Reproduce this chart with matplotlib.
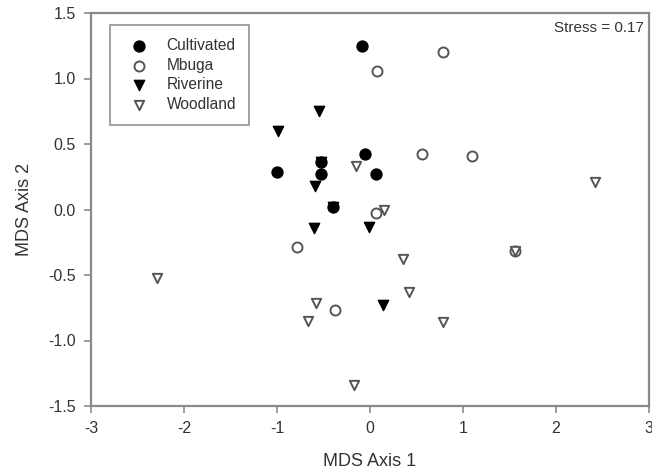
import matplotlib
matplotlib.use("Agg")
from matplotlib import pyplot as plt

plt.rcParams['font.family'] = ['Liberation Sans', 'DejaVu Sans']

# MDS coordinates
cultivated_x = [-0.09, -0.05, -1.00, -0.53, -0.53, 0.06, -0.40]
cultivated_y = [1.25, 0.42, 0.29, 0.36, 0.27, 0.27, 0.02]

mbuga_x = [0.07, 0.78, 0.56, 1.10, 0.06, -0.79, -0.38, 1.56]
mbuga_y = [1.06, 1.20, 0.42, 0.41, -0.03, -0.29, -0.77, -0.32]

riverine_x = [-0.55, -0.99, -0.59, -0.60, -0.01, 0.14, -0.40, -0.53]
riverine_y = [0.75, 0.60, 0.18, -0.14, -0.13, -0.73, 0.02, 0.36]

woodland_x = [-0.15, 0.15, 0.35, 0.42, 0.78, 2.42, -2.29, -0.58, -0.67, -0.17, 1.56]
woodland_y = [0.33, 0.00, -0.38, -0.63, -0.86, 0.21, -0.52, -0.71, -0.85, -1.34, -0.32]

x_ticks = [-3, -2, -1, 0, 1, 2, 3]
y_ticks = [-1.5, -1.0, -0.5, 0.0, 0.5, 1.0, 1.5]

gris = '#555555'
eje = '#8a8a8a'

fig = plt.figure(figsize=(6.52, 4.71), dpi=100)
ax = fig.add_axes([91 / 652, 65 / 471, 558 / 652, 393 / 471])

ax.scatter(cultivated_x, cultivated_y, s=62, marker='o', facecolor='black',
           edgecolor='black', linewidth=1, label='Cultivated', zorder=3)
ax.scatter(mbuga_x, mbuga_y, s=52, marker='o', facecolor='white',
           edgecolor=gris, linewidth=1.4, label='Mbuga', zorder=3)
ax.scatter(riverine_x, riverine_y, s=55, marker='v', facecolor='black',
           edgecolor='black', linewidth=1, label='Riverine', zorder=4)
ax.scatter(woodland_x, woodland_y, s=45, marker='v', facecolor='white',
           edgecolor=gris, linewidth=1.4, label='Woodland', zorder=4)

ax.set_xlim(-3, 3)
ax.set_ylim(-1.5, 1.5)
ax.set_xticks(x_ticks)
ax.set_yticks(y_ticks)
ax.set_xticklabels([str(t) for t in x_ticks])
ax.set_yticklabels(['%.1f' % t for t in y_ticks])

for lado in ax.spines.values():
    lado.set_color(eje)
    lado.set_linewidth(1.6)
ax.tick_params(direction='out', length=5, width=1.2, color=eje,
               labelsize=11.5, labelcolor='#333333', pad=6)

ax.set_xlabel('MDS Axis 1', fontsize=13, color='#333333', labelpad=12)
ax.set_ylabel('MDS Axis 2', fontsize=13, color='#333333', labelpad=11)

ax.text(0.99, 0.98, 'Stress = 0.17', transform=ax.transAxes, ha='right',
        va='top', fontsize=11, color='#333333')

leyenda = ax.legend(loc='upper left', bbox_to_anchor=(0.034, 0.97),
                    fancybox=False, frameon=True, fontsize=11.2,
                    handletextpad=0.8, borderpad=0.85, labelspacing=0.3,
                    borderaxespad=0)
leyenda.get_frame().set_edgecolor(eje)
leyenda.get_frame().set_linewidth(1.4)
for texto in leyenda.get_texts():
    texto.set_color('#333333')

plt.savefig('out.png', dpi=100)
